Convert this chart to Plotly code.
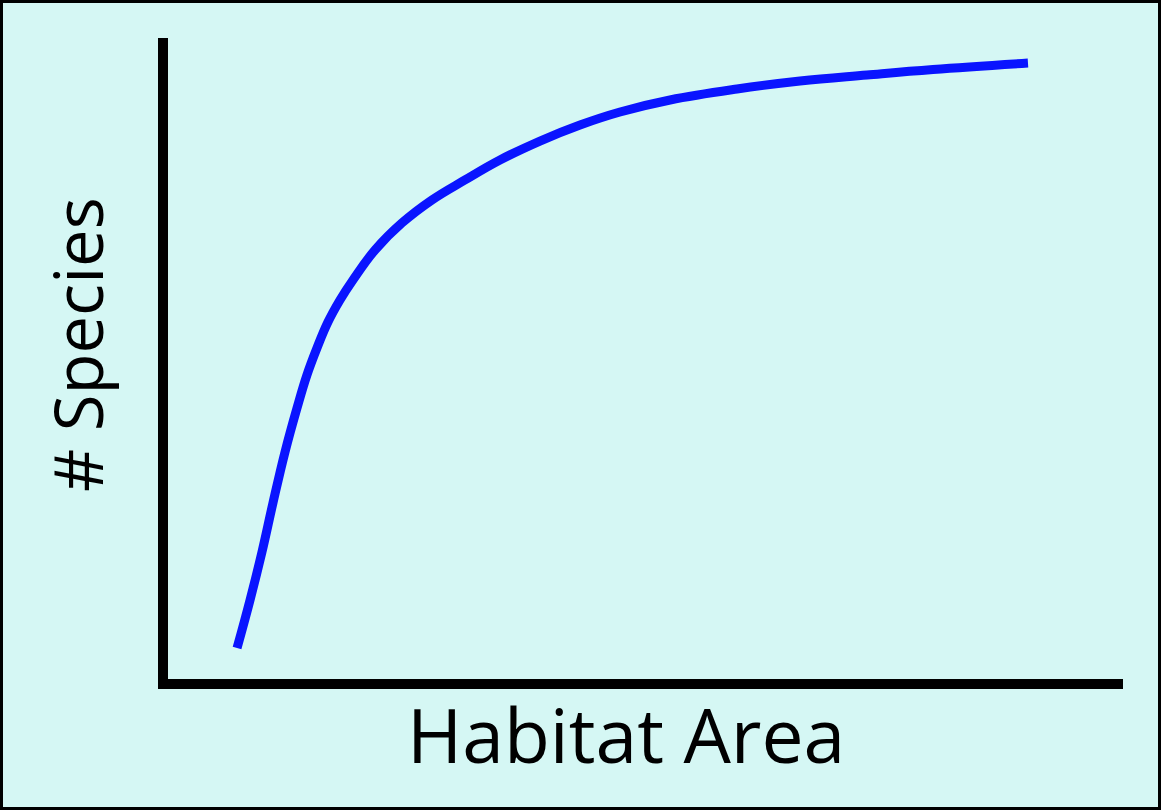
import plotly.graph_objects as go

# Species-area curve (arbitrary units)
habitat_area = [7.23, 8.59, 9.84, 10.99, 12.25, 13.51, 14.55, 15.60, 16.75, 18.01,
                19.37, 21.68, 24.50, 27.64, 31.10, 34.76, 38.95, 43.14, 47.33, 52.57,
                59.58, 66.18, 73.19, 80.10, 90.05]
species = [4.84, 12.32, 19.81, 27.46, 35.41, 42.28, 47.43, 51.64, 55.69, 59.13,
           62.25, 66.93, 71.14, 74.73, 77.85, 80.97, 83.93, 86.43, 88.46, 90.33,
           92.04, 93.29, 94.23, 95.09, 96.10]

x_label = "Habitat Area"
y_label = "# Species"

W, H = 1161, 810
L, R, T, B = 168, 38, 38, 131
PW, PH = W - L - R, H - T - B

bg = "#D5F7F4"

fig = go.Figure()
fig.add_trace(go.Scatter(
    x=habitat_area, y=species, mode="lines",
    line=dict(color="#0A14FF", width=9, shape="spline", smoothing=1.15),
    hoverinfo="skip", showlegend=False,
))

axis_common = dict(showgrid=False, zeroline=False, showticklabels=False, ticks="",
                   showline=True, linecolor="black", linewidth=10, mirror=False,
                   fixedrange=True)
fig.update_xaxes(range=[0, 100], **axis_common)
fig.update_yaxes(range=[0, 100], **axis_common)

font_family = "Open Sans, Noto Sans, DejaVu Sans, sans-serif"
fig.add_annotation(text=x_label, xref="paper", yref="paper",
                   x=(626 - L) / PW, y=(679 - 734) / PH,
                   xanchor="center", yanchor="middle", showarrow=False,
                   font=dict(family=font_family, size=75, color="black"))
fig.add_annotation(text=y_label, xref="paper", yref="paper",
                   x=(77 - L) / PW, y=(679 - 345) / PH, textangle=-90,
                   xanchor="center", yanchor="middle", showarrow=False,
                   font=dict(family=font_family, size=67, color="black"))

# outer frame around the whole figure
fig.add_shape(type="rect", xref="paper", yref="paper",
              x0=(1 - L) / PW, x1=(W - 1 - L) / PW,
              y0=-(B - 1) / PH, y1=(PH + T - 1) / PH,
              line=dict(color="black", width=4), fillcolor="rgba(0,0,0,0)", layer="above")

fig.update_layout(
    width=W, height=H, autosize=False,
    margin=dict(l=L, r=R, t=T, b=B, pad=0),
    paper_bgcolor=bg, plot_bgcolor=bg,
    showlegend=False,
)

fig.write_html("out.html", config={"displayModeBar": False},
               post_script="document.body.style.margin='0';document.body.style.background='%s';" % bg)
